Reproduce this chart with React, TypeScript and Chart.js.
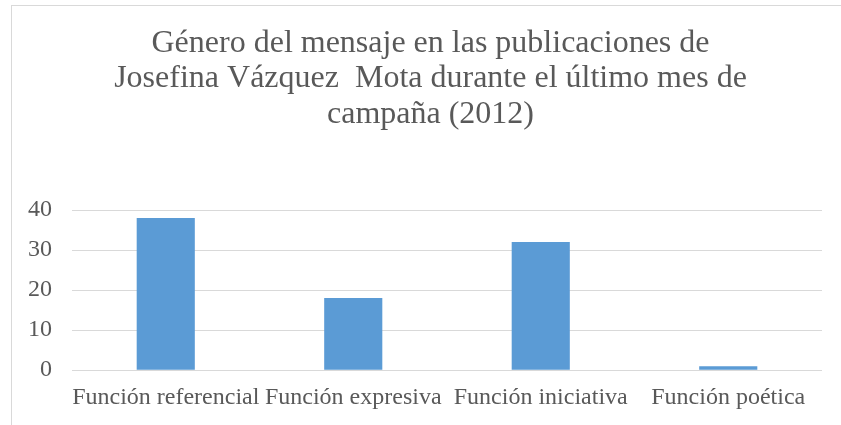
import React, { useEffect, useRef } from "react";
import { Chart, registerables } from "chart.js";

Chart.register(...registerables);

const categories = ["Función referencial", "Función expresiva", "Función iniciativa", "Función poética"];
const values = [38, 18, 32, 1];
const titleLines = [
  "Género del mensaje en las publicaciones de",
  "Josefina Vázquez  Mota durante el último mes de",
  "campaña (2012)",
];
const yMin = 0;
const yMax = 40;
const yStep = 10;

const FONT = "'Liberation Serif', 'Times New Roman', serif";
const TEXT = "#595959";

const framePlugin = {
  id: "frame",
  beforeDraw(chart: any) {
    const ctx = chart.ctx;
    ctx.save();
    ctx.fillStyle = "#ffffff";
    ctx.fillRect(0, 0, chart.width, chart.height);
    ctx.strokeStyle = "#d9d9d9";
    ctx.lineWidth = 1;
    ctx.strokeRect(11.5, 5.5, 1000, 600);
    ctx.restore();
  },
};

export default function App() {
  const ref = useRef<HTMLCanvasElement>(null);
  useEffect(() => {
    document.body.style.margin = "0";
    const chart = new Chart(ref.current!, {
      type: "bar",
      data: {
        labels: categories,
        datasets: [
          {
            data: values,
            backgroundColor: "#5B9BD5",
            borderWidth: 0,
            categoryPercentage: 1,
            barPercentage: 0.31,
            yAxisID: "y",
          },
        ],
      },
      options: {
        responsive: false,
        animation: false,
        layout: { padding: { left: 20, right: 0, top: 5, bottom: 0 } },
        plugins: {
          legend: { display: false },
          tooltip: { enabled: false },
          title: {
            display: true,
            text: titleLines,
            color: TEXT,
            font: { family: FONT, size: 32, weight: "normal", lineHeight: "35.75px" } as any,
            padding: { top: 20.3, bottom: 77.45 },
          },
        },
        scales: {
          x: {
            grid: { display: false, drawTicks: false },
            border: { display: false },
            ticks: { color: TEXT, font: { family: FONT, size: 24 }, padding: 13, maxRotation: 0, autoSkip: false },
          },
          y: {
            position: "left",
            min: yMin,
            max: yMax,
            afterFit: (scale: any) => {
              scale.width = 52;
            },
            grid: { color: "#d9d9d9", lineWidth: 1, drawTicks: false },
            border: { display: false },
            ticks: { stepSize: yStep, color: TEXT, font: { family: FONT, size: 24 }, padding: 20 },
          },
          yRight: {
            position: "right",
            min: yMin,
            max: yMax,
            afterFit: (scale: any) => {
              scale.width = 19;
            },
            grid: { display: false, drawTicks: false },
            border: { display: false },
            ticks: { display: false },
          },
        },
      },
      plugins: [framePlugin],
    });
    return () => chart.destroy();
  }, []);
  return <canvas ref={ref} width={841} height={425} style={{ display: "block" }} />;
}
